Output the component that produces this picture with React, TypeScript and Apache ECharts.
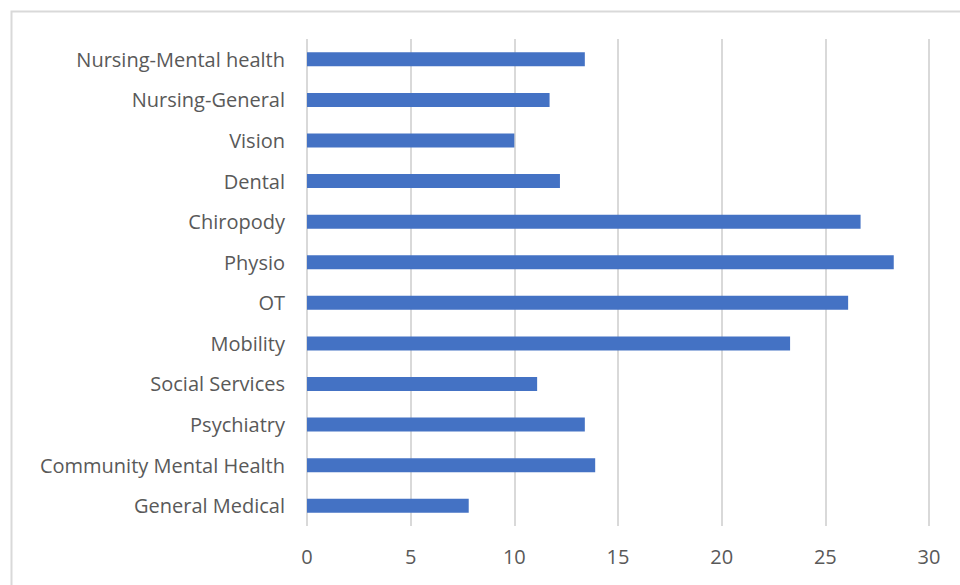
import React, { useEffect, useRef } from "react";
import * as echarts from "echarts";

// Services listed bottom-to-top (ECharts category axes start at the bottom)
const categories: string[] = [
  "General Medical",
  "Community Mental Health",
  "Psychiatry",
  "Social Services",
  "Mobility",
  "OT",
  "Physio",
  "Chiropody",
  "Dental",
  "Vision",
  "Nursing-General",
  "Nursing-Mental health",
];

const values: number[] = [
  7.8, 13.9, 13.4, 11.1, 23.3, 26.1, 28.3, 26.7, 12.2, 10.0, 11.7, 13.4,
];

const xTicks = { min: 0, max: 30, interval: 5 };

const FONT = "'Open Sans', Lato, sans-serif";
const TEXT_COLOR = "#595959";
const GRID_COLOR = "#d9d9d9";
const BAR_COLOR = "#4472C4";

export default function App() {
  const ref = useRef<HTMLDivElement>(null);

  useEffect(() => {
    if (!ref.current) return;
    const chart = echarts.init(ref.current, undefined, { renderer: "svg" });
    chart.setOption({
      animation: false,
      backgroundColor: "#ffffff",
      graphic: [
        {
          type: "rect",
          left: 9,
          top: 9,
          shape: { width: 1000, height: 1000 },
          style: { fill: "none", stroke: GRID_COLOR, lineWidth: 2 },
          silent: true,
        },
      ],
      grid: { left: 307, right: 31, top: 39, bottom: 59, containLabel: false },
      xAxis: {
        type: "value",
        min: xTicks.min,
        max: xTicks.max,
        interval: xTicks.interval,
        axisLine: { show: false },
        axisTick: { show: false },
        splitLine: { show: true, lineStyle: { color: GRID_COLOR, width: 2 } },
        axisLabel: {
          color: TEXT_COLOR,
          fontFamily: FONT,
          fontSize: 20,
          margin: 20,
        },
      },
      yAxis: {
        type: "category",
        data: categories,
        axisLine: { show: false },
        axisTick: { show: false },
        splitLine: { show: false },
        axisLabel: {
          color: TEXT_COLOR,
          fontFamily: FONT,
          fontSize: 20,
          margin: 22,
        },
      },
      series: [
        {
          type: "bar",
          data: values,
          barWidth: 14,
          itemStyle: { color: BAR_COLOR },
        },
      ],
    });
    return () => chart.dispose();
  }, []);

  return (
    <div
      ref={ref}
      style={{ position: "fixed", left: 0, top: 0, width: 960, height: 585 }}
    />
  );
}
